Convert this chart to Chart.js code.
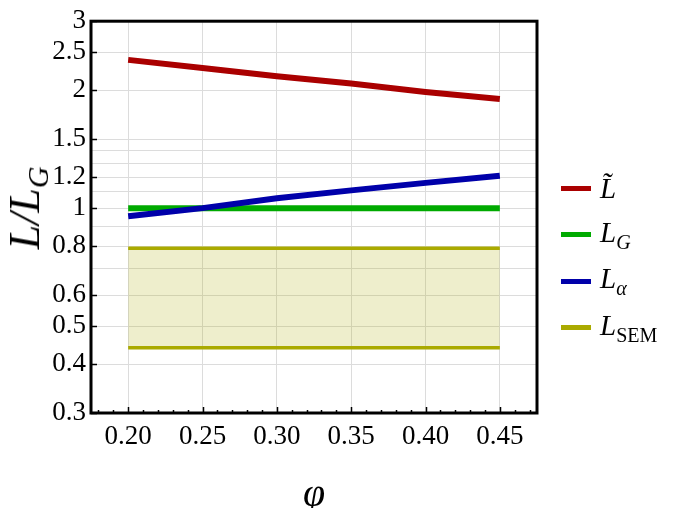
<!DOCTYPE html>
<html>
<head>
<meta charset="utf-8">
<script src="https://cdn.jsdelivr.net/npm/chart.js@4"></script>
<style>
  body { margin: 0; background: #fff; }
  #wrap { position: relative; width: 675px; height: 508px; font-family: 'Liberation Serif', 'DejaVu Serif', serif; }
  #ytitle { position: absolute; left: 27px; top: 208px; transform: translate(-50%, -50%) rotate(-90deg); font-style: italic; font-size: 44px; white-space: nowrap; }
  #ytitle sub { font-size: 30px; vertical-align: -9px; }
  #xtitle { position: absolute; left: 314px; top: 492px; transform: translate(-50%, -50%); font-style: italic; font-size: 40px; }
  #legend { position: absolute; left: 561px; top: 165px; }
  .item { height: 46.5px; display: flex; align-items: center; }
  .swatch { width: 30px; height: 5px; margin-right: 9px; }
  .lab { font-style: italic; font-size: 29px; }
  sub { font-size: 20px; vertical-align: -7px; }
  sub.rm { font-style: normal; }
</style>
</head>
<body>
<div id="wrap">
  <canvas id="chart" width="675" height="508"></canvas>
  <div id="ytitle">L/L<sub>G</sub></div>
  <div id="xtitle">φ</div>
  <div id="legend"></div>
</div>
<script>
// values
const phi = [0.20, 0.25, 0.30, 0.35, 0.40, 0.45];
const lTilde = [2.39, 2.28, 2.17, 2.08, 1.98, 1.90];
const lG = [1, 1, 1, 1, 1, 1];
const lAlpha = [0.953, 1.0, 1.06, 1.11, 1.16, 1.21];
const semUpper = [0.79, 0.79, 0.79, 0.79, 0.79, 0.79];
const semLower = [0.44, 0.44, 0.44, 0.44, 0.44, 0.44];

const xTicks = [0.20, 0.25, 0.30, 0.35, 0.40, 0.45];
const xMinor = [0.18, 0.19, 0.21, 0.22, 0.23, 0.24, 0.26, 0.27, 0.28, 0.29, 0.31, 0.32, 0.33, 0.34,
                0.36, 0.37, 0.38, 0.39, 0.41, 0.42, 0.43, 0.44, 0.46, 0.47];
const yLabels = [0.3, 0.4, 0.5, 0.6, 0.8, 1, 1.2, 1.5, 2, 2.5, 3];
const yGrid = [0.3, 0.4, 0.5, 0.6, 0.7, 0.8, 0.9, 1, 1.1, 1.2, 1.3, 1.4, 1.5, 2, 2.5, 3];

const red = 'rgb(170,0,0)', green = 'rgb(0,170,0)', blue = 'rgb(0,0,170)', olive = 'rgb(170,170,0)';

const pts = ys => phi.map((x, i) => ({ x: x, y: ys[i] }));

const frame = {
  id: 'frame',
  afterDatasetsDraw(chart) {
    const { ctx, chartArea: a, scales } = chart;
    ctx.save();
    ctx.strokeStyle = '#000';
    ctx.lineWidth = 1.5;
    // inward ticks on left and bottom
    ctx.beginPath();
    yLabels.forEach(v => {
      const y = Math.round(scales.y.getPixelForValue(v)) + 0.5;
      ctx.moveTo(a.left, y); ctx.lineTo(a.left + 6, y);
    });
    xTicks.forEach(v => {
      const x = Math.round(scales.x.getPixelForValue(v)) + 0.5;
      ctx.moveTo(x, a.bottom); ctx.lineTo(x, a.bottom - 6);
    });
    xMinor.forEach(v => {
      const x = Math.round(scales.x.getPixelForValue(v)) + 0.5;
      ctx.moveTo(x, a.bottom); ctx.lineTo(x, a.bottom - 3);
    });
    ctx.stroke();
    ctx.lineWidth = 3;
    ctx.strokeRect(a.left, a.top, a.right - a.left, a.bottom - a.top);
    ctx.restore();
  }
};

const tickFont = { family: "'Liberation Serif', serif", size: 27 };

const chart = new Chart(document.getElementById('chart'), {
  type: 'line',
  data: {
    datasets: [
      { label: 'L\u0303', data: pts(lTilde), borderColor: red, borderWidth: 6, order: 2 },
      { label: 'L|G', data: pts(lG), borderColor: green, borderWidth: 6, order: 1 },
      { label: 'L|\u03b1', data: pts(lAlpha), borderColor: blue, borderWidth: 6, order: 0 },
      { label: 'L|SEM', data: pts(semUpper), borderColor: olive, borderWidth: 3.5, order: 3,
        fill: { target: 4 }, backgroundColor: 'rgba(170,170,0,0.2)' },
      { label: '', data: pts(semLower), borderColor: olive, borderWidth: 3.5, order: 4 }
    ]
  },
  options: {
    responsive: false,
    animation: false,
    layout: { padding: { left: 0, top: 12, right: 138, bottom: 0 } },
    elements: {
      point: { radius: 0 },
      line: { tension: 0, borderCapStyle: 'butt' }
    },
    scales: {
      x: {
        type: 'linear',
        min: 0.175,
        max: 0.475,
        afterBuildTicks: s => { s.ticks = xTicks.map(v => ({ value: v })); },
        afterFit: s => { s.height = 95; },
        ticks: {
          autoSkip: false, maxRotation: 0, padding: 8, color: '#000', font: tickFont,
          callback: v => v.toFixed(2)
        },
        grid: { color: '#dcdcdc', drawTicks: false },
        border: { display: false }
      },
      y: {
        type: 'logarithmic',
        min: 0.3,
        max: 3,
        afterBuildTicks: s => { s.ticks = yGrid.map(v => ({ value: v })); },
        afterFit: s => { s.width = 91; },
        ticks: {
          autoSkip: false, padding: 5, color: '#000', font: tickFont,
          callback: v => yLabels.includes(v) ? String(v) : ''
        },
        grid: { color: '#dcdcdc', drawTicks: false },
        border: { display: false }
      }
    },
    plugins: {
      legend: { display: false },
      tooltip: { enabled: false }
    }
  },
  plugins: [frame]
});

// html legend, built from the datasets (labels with subscripts)
const legend = document.getElementById('legend');
chart.data.datasets.filter(d => d.label).forEach(d => {
  const [main, sub] = d.label.split('|');
  const subHtml = sub ? '<sub' + (sub === 'SEM' ? ' class="rm"' : '') + '>' + sub + '</sub>' : '';
  legend.insertAdjacentHTML('beforeend',
    '<div class="item"><span class="swatch" style="background:' + d.borderColor + '"></span>' +
    '<span class="lab">' + main + subHtml + '</span></div>');
});
</script>
</body>
</html>
